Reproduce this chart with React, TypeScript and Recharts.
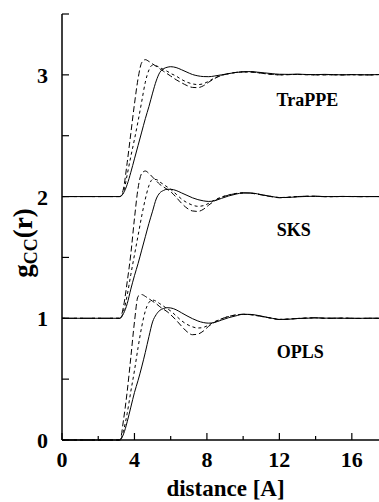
import { LineChart, Line, XAxis, YAxis, ReferenceDot } from 'recharts';

// distance r in Angstrom
const distance = [
  0, 3.0, 3.2, 3.4, 3.6, 3.8, 4.0, 4.2, 4.4, 4.6, 4.8, 5.0, 5.2, 5.4, 5.6, 5.8, 6.0,
  6.3, 6.6, 6.9, 7.2, 7.5, 7.8, 8.1, 8.4, 8.8, 9.2, 9.6, 10.0, 10.4, 10.8, 11.2, 11.6, 12.0,
  12.5, 13.0, 13.5, 14.0, 14.5, 15.0, 15.5, 16.0, 16.5, 17.0, 17.5,
];

// g_CC(r) for each force field, three curves per field (solid, long dash, short dash)
const oplsSolid = [
  0, 0, 0, 0.05, 0.15, 0.27, 0.39, 0.49, 0.6, 0.72, 0.85, 0.97, 1.03, 1.065, 1.08, 1.087, 1.085,
  1.07, 1.045, 1.02, 0.997, 0.978, 0.965, 0.96, 0.965, 0.985, 1.005, 1.02, 1.033, 1.032, 1.024, 1.012, 1.0, 0.99,
  0.992, 0.998, 1.0, 1.004, 1.001, 1.002, 1.0, 1.0, 1.0, 1.001, 1.0,
];
const oplsLong = [
  0, 0, 0, 0.17, 0.4, 0.68, 0.97, 1.18, 1.195, 1.18, 1.16, 1.14, 1.12, 1.095, 1.075, 1.055, 1.03,
  0.985, 0.935, 0.89, 0.865, 0.87, 0.895, 0.935, 0.965, 0.995, 1.015, 1.028, 1.033, 1.03, 1.022, 1.01, 1.0, 0.99,
  0.993, 0.998, 1.002, 1.004, 1.0, 0.999, 1.002, 1.0, 0.998, 1.0, 1.0,
];
const oplsShort = [
  0, 0, 0, 0.08, 0.22, 0.4, 0.57, 0.76, 0.93, 1.06, 1.13, 1.15, 1.14, 1.12, 1.1, 1.08, 1.06,
  1.02, 0.98, 0.95, 0.93, 0.92, 0.925, 0.945, 0.97, 0.995, 1.015, 1.027, 1.032, 1.03, 1.02, 1.01, 1.0, 0.992,
  0.994, 0.999, 1.002, 1.003, 1.0, 1.0, 1.001, 1.0, 0.999, 1.0, 1.0,
];

const sksSolid = [
  0, 0, 0, 0.04, 0.12, 0.24, 0.35, 0.45, 0.56, 0.67, 0.78, 0.88, 0.98, 1.03, 1.05, 1.06, 1.06,
  1.05, 1.03, 1.01, 0.99, 0.975, 0.965, 0.96, 0.965, 0.985, 1.005, 1.02, 1.03, 1.03, 1.022, 1.01, 1.0, 0.992,
  0.993, 0.998, 1.001, 1.003, 1.0, 1.0, 1.001, 1.0, 1.0, 1.0, 1.0,
];
const sksLong = [
  0, 0, 0, 0.1, 0.3, 0.53, 0.82, 1.07, 1.19, 1.21, 1.19, 1.16, 1.13, 1.1, 1.08, 1.06, 1.04,
  0.995, 0.945, 0.905, 0.882, 0.878, 0.895, 0.93, 0.962, 0.993, 1.012, 1.025, 1.03, 1.028, 1.02, 1.008, 0.998, 0.99,
  0.994, 1.0, 1.003, 1.002, 0.999, 1.0, 1.001, 1.0, 0.999, 1.0, 1.0,
];
const sksShort = [
  0, 0, 0, 0.06, 0.19, 0.36, 0.52, 0.68, 0.84, 0.98, 1.09, 1.14, 1.14, 1.12, 1.1, 1.08, 1.06,
  1.02, 0.98, 0.95, 0.93, 0.92, 0.925, 0.945, 0.97, 0.996, 1.014, 1.025, 1.03, 1.028, 1.02, 1.01, 1.0, 0.992,
  0.995, 1.0, 1.002, 1.002, 1.0, 0.999, 1.0, 1.001, 1.0, 1.0, 1.0,
];

const trappeSolid = [
  0, 0, 0, 0.03, 0.1, 0.2, 0.31, 0.42, 0.53, 0.64, 0.74, 0.85, 0.95, 1.02, 1.05, 1.062, 1.067,
  1.06, 1.042, 1.022, 1.003, 0.992, 0.986, 0.985, 0.99, 1.0, 1.01, 1.02, 1.025, 1.027, 1.022, 1.016, 1.01, 1.005,
  1.004, 1.006, 1.003, 1.002, 1.004, 1.002, 1.0, 1.002, 1.001, 1.0, 1.003,
];
const trappeLong = [
  0, 0, 0, 0.07, 0.28, 0.52, 0.76, 0.97, 1.1, 1.125, 1.11, 1.09, 1.07, 1.05, 1.03, 1.01, 0.99,
  0.96, 0.935, 0.912, 0.897, 0.895, 0.91, 0.94, 0.968, 0.995, 1.01, 1.02, 1.025, 1.024, 1.018, 1.01, 1.004, 1.0,
  1.002, 1.004, 1.002, 1.0, 1.001, 1.0, 1.0, 1.002, 1.0, 1.0, 1.003,
];
const trappeShort = [
  0, 0, 0, 0.04, 0.18, 0.33, 0.47, 0.62, 0.78, 0.94, 1.04, 1.08, 1.075, 1.06, 1.045, 1.03, 1.012,
  0.99, 0.962, 0.94, 0.926, 0.92, 0.927, 0.948, 0.972, 0.996, 1.01, 1.02, 1.024, 1.024, 1.018, 1.01, 1.004, 1.0,
  1.002, 1.003, 1.001, 1.0, 1.0, 1.001, 1.0, 1.001, 1.0, 1.0, 1.002,
];

// curves are shifted up by these amounts in the figure
const sksShift = 1;
const trappeShift = 2;

const xTicks = [0, 2, 4, 6, 8, 10, 12, 14, 16];
const yTicks = [0, 0.5, 1, 1.5, 2, 2.5, 3, 3.5];

const groupLabels = ['TraPPE', 'SKS', 'OPLS'];
const groupLabelX = [13.55, 12.8, 13.15];
const groupLabelY = [2.8, 1.725, 0.73];

const rows = distance.map((r, i) => ({
  r,
  oplsSolid: oplsSolid[i],
  oplsLong: oplsLong[i],
  oplsShort: oplsShort[i],
  sksSolid: sksSolid[i] + sksShift,
  sksLong: sksLong[i] + sksShift,
  sksShort: sksShort[i] + sksShift,
  trappeSolid: trappeSolid[i] + trappeShift,
  trappeLong: trappeLong[i] + trappeShift,
  trappeShort: trappeShort[i] + trappeShift,
}));

const FONT = '"Liberation Serif", "Times New Roman", serif';

function BottomTick({ x, y, payload }: any) {
  const v = payload.value;
  const major = v % 4 === 0;
  return (
    <g>
      <line x1={x} x2={x} y1={y} y2={y - (major ? 7 : 4)} stroke="#000" strokeWidth={1.2} />
      {major && (
        <text x={x} y={y + 27} textAnchor="middle" fontFamily={FONT} fontWeight="bold" fontSize={22} fill="#000">
          {v}
        </text>
      )}
    </g>
  );
}

function TopTick({ x, y, payload }: any) {
  const major = payload.value % 4 === 0;
  return <line x1={x} x2={x} y1={y} y2={y + (major ? 7 : 4)} stroke="#000" strokeWidth={1.2} />;
}

function LeftTick({ x, y, payload }: any) {
  const v = payload.value;
  const major = Number.isInteger(v) && v < 3.5;
  return (
    <g>
      <line x1={x} x2={x + 7} y1={y} y2={y} stroke="#000" strokeWidth={1.2} />
      {major && (
        <text x={x - 14} y={y + 8} textAnchor="end" fontFamily={FONT} fontWeight="bold" fontSize={22} fill="#000">
          {v}
        </text>
      )}
    </g>
  );
}

const series = [
  { key: 'oplsSolid', dash: undefined },
  { key: 'oplsLong', dash: '6 3' },
  { key: 'oplsShort', dash: '3 3' },
  { key: 'sksSolid', dash: undefined },
  { key: 'sksLong', dash: '6 3' },
  { key: 'sksShort', dash: '3 3' },
  { key: 'trappeSolid', dash: undefined },
  { key: 'trappeLong', dash: '6 3' },
  { key: 'trappeShort', dash: '3 3' },
];

export default function App() {
  return (
    <div style={{ position: 'absolute', left: 0, top: 0, background: '#fff' }}>
      <LineChart width={379} height={502} data={rows} margin={{ top: 14, right: 0, left: 0, bottom: 0 }}>
        <XAxis
          dataKey="r"
          type="number"
          domain={[0, 17.5]}
          ticks={xTicks}
          interval={0}
          height={62}
          tickLine={false}
          tickSize={0}
          tickMargin={0}
          tick={BottomTick}
          axisLine={{ stroke: '#000', strokeWidth: 1.5 }}
          label={{
            value: 'distance [A]',
            position: 'insideBottom',
            offset: 6,
            dx: 5,
            fill: '#000',
            fontFamily: FONT,
            fontWeight: 'bold',
            fontSize: 23,
          }}
        />
        <XAxis
          xAxisId="top"
          orientation="top"
          dataKey="r"
          type="number"
          domain={[0, 17.5]}
          ticks={xTicks}
          interval={0}
          height={0}
          tickLine={false}
          tickSize={0}
          tickMargin={0}
          tick={TopTick}
          axisLine={{ stroke: '#000', strokeWidth: 1.5 }}
        />
        <YAxis
          type="number"
          domain={[0, 3.5]}
          ticks={yTicks}
          interval={0}
          width={62}
          tickLine={false}
          tickSize={0}
          tickMargin={0}
          tick={LeftTick}
          axisLine={{ stroke: '#000', strokeWidth: 1.5 }}
        />
        {series.map((s) => (
          <Line
            key={s.key}
            type="monotone"
            dataKey={s.key}
            stroke="#000"
            strokeWidth={1}
            strokeDasharray={s.dash}
            dot={false}
            activeDot={false}
            isAnimationActive={false}
          />
        ))}
        {groupLabels.map((name, i) => (
          <ReferenceDot
            key={name}
            x={groupLabelX[i]}
            y={groupLabelY[i]}
            r={1}
            fill="none"
            stroke="none"
            label={{
              value: name,
              position: 'center',
              fill: '#000',
              fontFamily: FONT,
              fontWeight: 'bold',
              fontSize: 18,
            }}
          />
        ))}
        <text
          transform="translate(32, 243) rotate(-90)"
          textAnchor="middle"
          fontFamily={FONT}
          fontWeight="bold"
          fontSize={27}
          fill="#000"
        >
          g<tspan fontSize={18} dy={5}>CC</tspan>
          <tspan dy={-5}>(r)</tspan>
        </text>
      </LineChart>
    </div>
  );
}
